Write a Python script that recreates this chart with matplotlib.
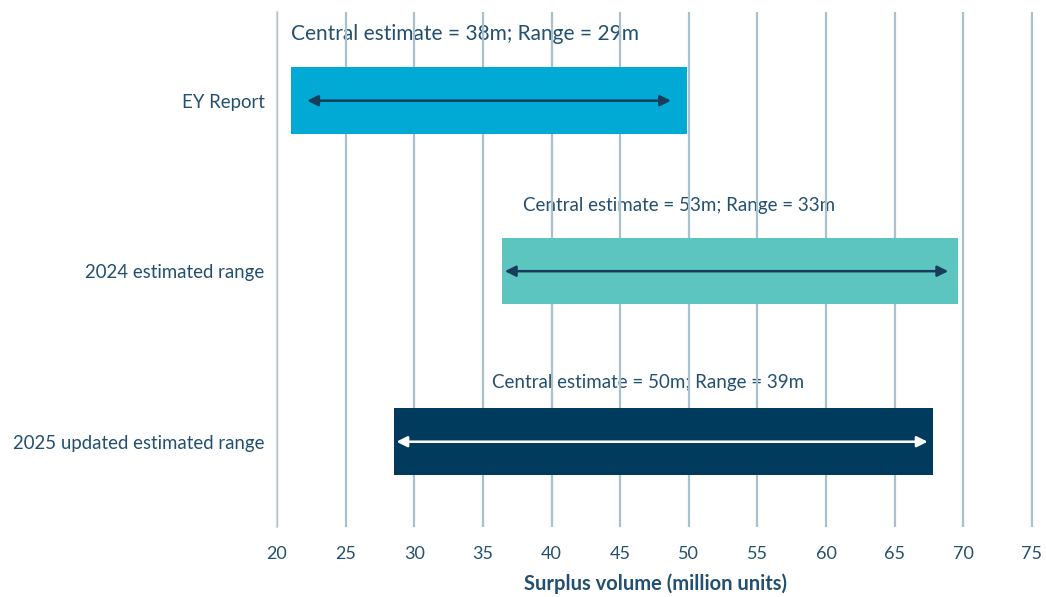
import matplotlib
matplotlib.use("Agg")
import matplotlib.pyplot as plt

categories = ["EY Report", "2024 estimated range", "2025 updated estimated range"]
starts = [21.0, 36.4, 28.5]
ends = [49.9, 69.6, 67.8]
arrow_starts = [22.2, 36.6, 28.7]
arrow_ends = [48.7, 68.9, 67.4]
central = [38, 53, 50]
ranges = [29, 33, 39]
xticks = [20, 25, 30, 35, 40, 45, 50, 55, 60, 65, 70, 75]

bar_colors = ["#00AAD4", "#5CC5C0", "#003A5C"]
arrow_colors = ["#173D5B", "#173D5B", "#FFFFFF"]
text_color = "#234F70"
label_x = [33.7, 49.3, 47.0]
label_dy = [-0.393, -0.387, -0.346]
label_sizes = [15, 13.5, 13.5]

plt.rcParams['font.family'] = ['Lato', 'DejaVu Sans']

fig = plt.figure(figsize=(10.46, 5.97), dpi=100)
ax = fig.add_axes([0.2648, 0.1173, 0.7231, 0.8626])

ypos = list(range(len(categories)))
widths = [e - s for s, e in zip(starts, ends)]
ax.barh(ypos, widths, left=starts, height=0.39, color=bar_colors, zorder=3)

for i in ypos:
    ax.annotate("", xy=(arrow_ends[i], i), xytext=(arrow_starts[i], i),
                arrowprops=dict(arrowstyle="<|-|>", color=arrow_colors[i], lw=1.8,
                                mutation_scale=16, shrinkA=0, shrinkB=0), zorder=4)
    ax.text(label_x[i], i + label_dy[i],
            f"Central estimate = {central[i]}m; Range = {ranges[i]}m",
            ha="center", va="center", fontsize=label_sizes[i], color=text_color, zorder=0.5)

ax.set_xlim(20, 75.1)
ax.set_ylim(2.5, -0.52)
ax.set_xticks(xticks)
ax.set_yticks(ypos)
ax.set_yticklabels(categories)
ax.xaxis.grid(True, color="#A9C0CD", lw=1.6, zorder=1)
ax.set_axisbelow(False)
for line in ax.get_xgridlines():
    line.set_zorder(1)
for s in ["top", "right", "bottom"]:
    ax.spines[s].set_visible(False)
ax.spines["left"].set_color("#D9D9D9")
ax.spines["left"].set_linewidth(1.6)
ax.spines["left"].set_zorder(1.5)
ax.tick_params(axis="both", length=0, colors=text_color, labelsize=13)
ax.tick_params(axis="y", labelsize=13.4, pad=9)
ax.tick_params(axis="x", pad=14)
ax.set_xlabel("Surplus volume (million units)", fontsize=14.5, fontweight="bold",
              color=text_color, labelpad=8)

fig.savefig("out.png", dpi=100)
